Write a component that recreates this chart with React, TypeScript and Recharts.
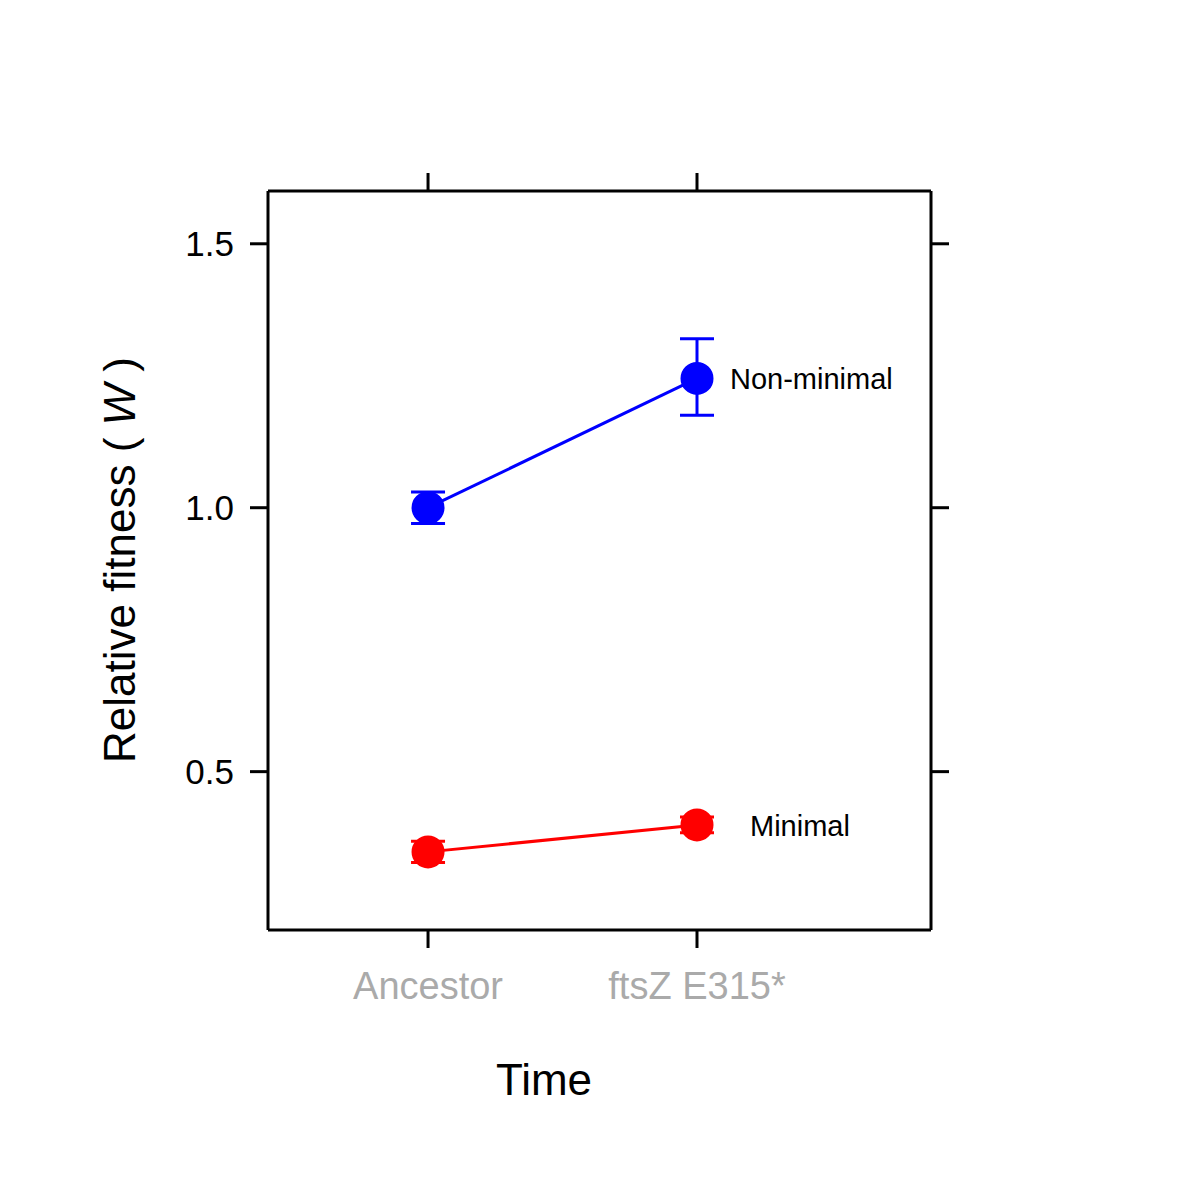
import React from 'react';
import { ComposedChart, Line, XAxis, YAxis, ErrorBar, Label } from 'recharts';

const categories = ['Ancestor', 'ftsZ E315*'];
const nonMinimal = [
  { x: 1, w: 1.0, err: [0.03, 0.03] },
  { x: 2, w: 1.245, err: [0.07, 0.075] },
];
const minimal = [
  { x: 1, w: 0.348, err: [0.02, 0.02] },
  { x: 2, w: 0.399, err: [0.015, 0.015] },
];
const yTicks = [0.5, 1.0, 1.5];

const font = 'Arial, "Liberation Sans", sans-serif';
const axisProps = { stroke: '#000', strokeWidth: 3 };

const endLabel = (text: string, dx: number) => (p: any) =>
  p.index === 1 ? (
    <text x={p.x + dx} y={p.y} dy={11} fontSize={29} fontFamily={font} fill="#000">
      {text}
    </text>
  ) : null;

export default function App() {
  return (
    <div style={{ position: 'absolute', left: 0, top: 0, background: '#fff' }}>
      <ComposedChart width={1200} height={1200} margin={{ top: 171, right: 249, bottom: 210, left: 168 }}>
        <XAxis xAxisId="b" type="number" dataKey="x" domain={[0.405, 2.87]} ticks={[1, 2]}
          allowDataOverflow axisLine={axisProps} tickLine={axisProps} tickSize={18} height={60}
          tickFormatter={(v) => categories[v - 1]} tick={{ fill: '#aaa', fontSize: 38, fontFamily: font, dy: 22 }}>
          <Label content={() => (
            <text x={544} y={1095} textAnchor="middle" fontSize={44} fontFamily={font}>Time</text>
          )} />
        </XAxis>
        <XAxis xAxisId="t" orientation="top" type="number" dataKey="x" domain={[0.405, 2.87]} ticks={[1, 2]}
          allowDataOverflow axisLine={axisProps} tickLine={axisProps} tickSize={18} height={20} tick={() => <g />} />
        <YAxis yAxisId="l" type="number" domain={[0.2, 1.6]} ticks={yTicks} allowDataOverflow width={100}
          axisLine={axisProps} tickLine={axisProps} tickSize={18}
          tickFormatter={(v) => v.toFixed(1)} tick={{ fill: '#000', fontSize: 35, fontFamily: font, dx: -14 }}>
          <Label content={() => (
            <text x={135} y={560} transform="rotate(-90 135 560)" textAnchor="middle" fontSize={44} fontFamily={font}>
              Relative fitness ( <tspan fontStyle="italic">W</tspan> )
            </text>
          )} />
        </YAxis>
        <YAxis yAxisId="r" orientation="right" type="number" domain={[0.2, 1.6]} ticks={yTicks} allowDataOverflow
          width={20} axisLine={axisProps} tickLine={axisProps} tickSize={18} tick={() => <g />} />
        <Line data={nonMinimal} xAxisId="b" yAxisId="l" dataKey="w" stroke="#0000ff" strokeWidth={3}
          dot={{ r: 15, fill: '#0000ff', stroke: '#0000ff' }} isAnimationActive={false}
          label={endLabel('Non-minimal', 33)}>
          <ErrorBar dataKey="err" direction="y" width={17} stroke="#0000ff" strokeWidth={3} />
        </Line>
        <Line data={minimal} xAxisId="b" yAxisId="l" dataKey="w" stroke="#ff0000" strokeWidth={3}
          dot={{ r: 15, fill: '#ff0000', stroke: '#ff0000' }} isAnimationActive={false}
          label={endLabel('Minimal', 53)}>
          <ErrorBar dataKey="err" direction="y" width={17} stroke="#ff0000" strokeWidth={3} />
        </Line>
      </ComposedChart>
    </div>
  );
}
